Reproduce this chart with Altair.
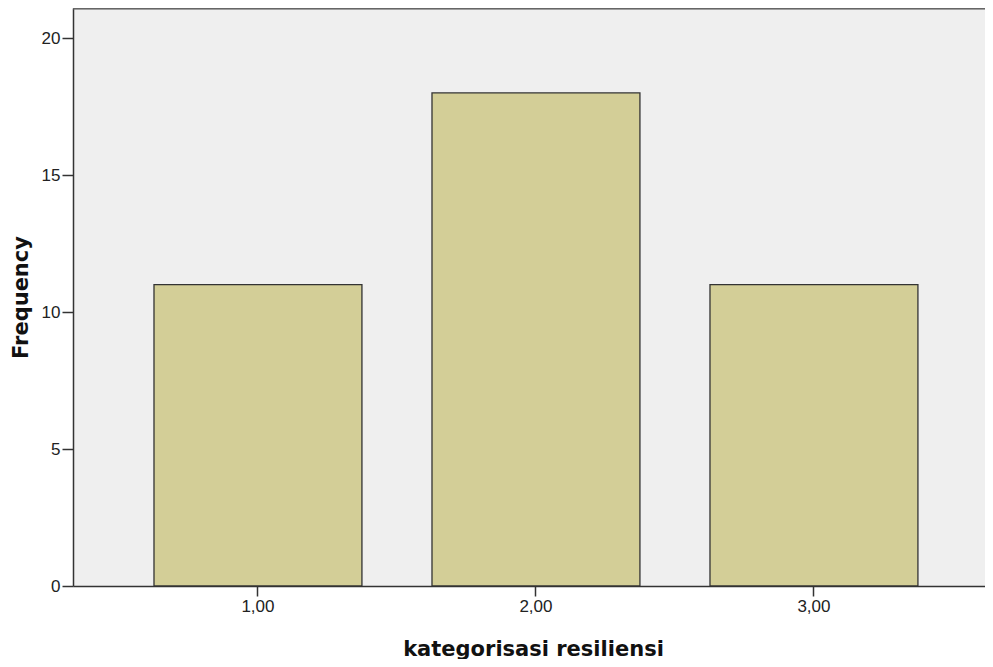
import altair as alt
import pandas as pd

categories = ["1,00", "2,00", "3,00"]
frequencies = [11, 18, 11]

df = pd.DataFrame({"kategori": categories, "freq": frequencies})

axis_common = dict(
    labelFont="Liberation Sans", labelFontSize=17, labelColor="#222",
    titleFont="DejaVu Sans", titleFontSize=21, titleFontWeight="bold",
    titleColor="#111", domainColor="#333", domainWidth=1.5,
    tickColor="#333", tickWidth=1.5,
)

bars = alt.Chart(df).mark_bar(
    fill="#D3CE97", stroke="#333333", strokeWidth=1.3
).encode(
    x=alt.X("kategori:N", sort=categories,
            scale=alt.Scale(paddingInner=0.252, paddingOuter=0.2663, align=0.547),
            axis=alt.Axis(title="kategorisasi resiliensi", labelAngle=0,
                          tickSize=10, labelPadding=2, titleX=460, titleY=69,
                          titleBaseline="alphabetic",
                          **axis_common)),
    y=alt.Y("freq:Q", scale=alt.Scale(domain=[0, 21.1], nice=False),
            axis=alt.Axis(title="Frequency", values=[0, 5, 10, 15, 20], grid=False,
                          tickSize=11, labelPadding=2, titlePadding=10,
                          **axis_common)),
)

top_border = alt.Chart(df).mark_rule(color="#666666", strokeWidth=2.5).encode(
    x=alt.value(0), x2=alt.value(912), y=alt.value(0)
)

chart = alt.layer(bars, top_border).properties(
    width=912, height=578,
    autosize=alt.AutoSizeParams(type="none"),
    padding={"left": 65, "top": 0, "right": 0, "bottom": 73},
).configure_view(
    fill="#EFEFEF", strokeWidth=0
)

chart.save("out.html", embed_options={"renderer": "svg", "actions": False})
